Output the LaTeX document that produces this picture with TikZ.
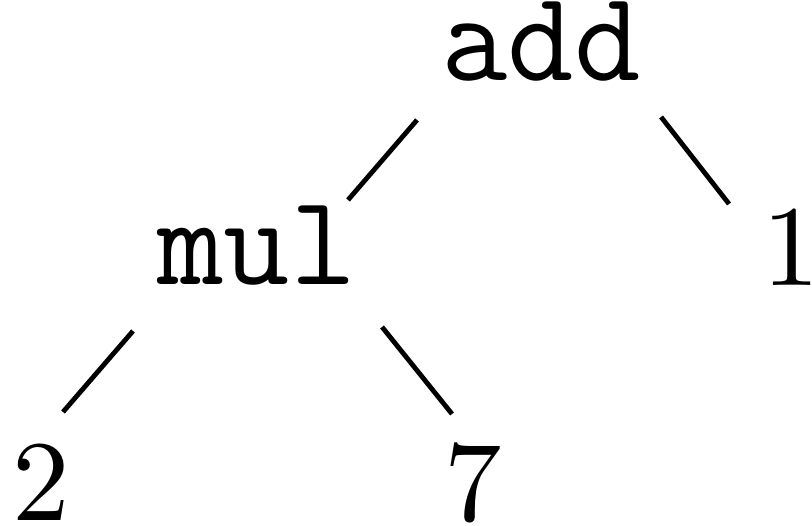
\documentclass[tikz,border=0pt]{standalone}
\usetikzlibrary{calc}
\begin{document}
\begin{tikzpicture}[x=0.087pt,y=-0.087pt,
  lbl/.style={inner sep=0pt,anchor=base},
  code/.style={lbl,font=\fontsize{11.2}{13}\selectfont\ttfamily},
  edge/.style={line width=0.42pt}]
\useasboundingbox (0,0) rectangle (812,526);
\node[code] (add) at (541,81) {add};
\node[code] (mul) at (257,285) {mul};
\node[lbl] (one) at (791,286) {1};
\node[lbl] (two) at (41,521) {2};
\node[lbl] (seven) at (473,521) {7};
\draw[edge] ($(add.base)+(-124,39)$) -- ($(mul.base)+(91,-85)$);
\draw[edge] ($(add.base)+(120,36)$) -- ($(one.base)+(-62,-82)$);
\draw[edge] ($(mul.base)+(-124,46)$) -- ($(two.base)+(22,-109)$);
\draw[edge] ($(mul.base)+(125,42)$) -- ($(seven.base)+(-21,-107)$);
\end{tikzpicture}
\end{document}
